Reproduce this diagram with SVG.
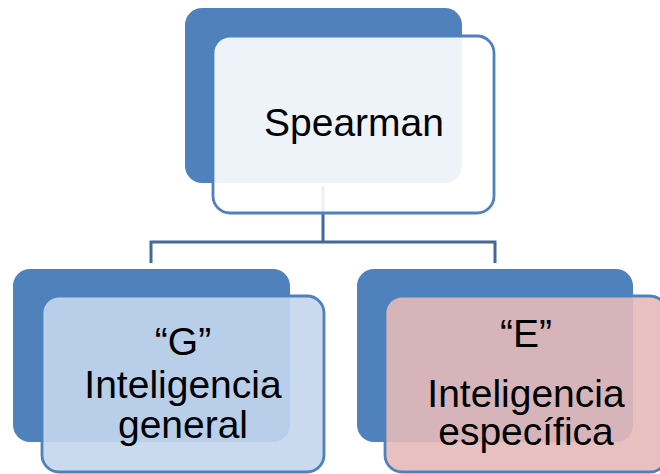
<svg xmlns="http://www.w3.org/2000/svg" width="660" height="474" viewBox="0 0 660 474">
<style>
.back{fill:#4f81bd}
.front{stroke:#4f81bd;stroke-width:2.8;fill-opacity:0.9}
.conn{fill:none;stroke:#41699b;stroke-width:3}
text{font-family:"Liberation Sans",Arial,sans-serif;font-size:39px;fill:#000;text-anchor:middle}
</style>
<rect width="660" height="474" fill="#fff"/>
<g id="connectors">
<path class="conn" d="M323 186 V242 M151 263 V242 H495 V263"/>
</g>
<g id="spearman">
<rect class="back" x="185" y="8" width="277" height="175" rx="17"/>
<rect class="front" x="213" y="36" width="281" height="177" rx="17" fill="#ffffff"/>
<text x="354" y="136">Spearman</text>
</g>
<g id="g-general">
<rect class="back" x="13" y="269" width="277" height="173" rx="17"/>
<rect class="front" x="42" y="296" width="282" height="176" rx="17" fill="#c3d6ed"/>
<text x="183" y="355">“G”</text>
<text x="183" y="398">Inteligencia</text>
<text x="183" y="438">general</text>
</g>
<g id="e-especifica">
<rect class="back" x="357" y="269" width="276" height="173" rx="17"/>
<rect class="front" x="385" y="296" width="282" height="176" rx="17" fill="#e6b9b8"/>
<text x="526" y="347">“E”</text>
<text x="526" y="407">Inteligencia</text>
<text x="526" y="445">específica</text>
</g>
</svg>
